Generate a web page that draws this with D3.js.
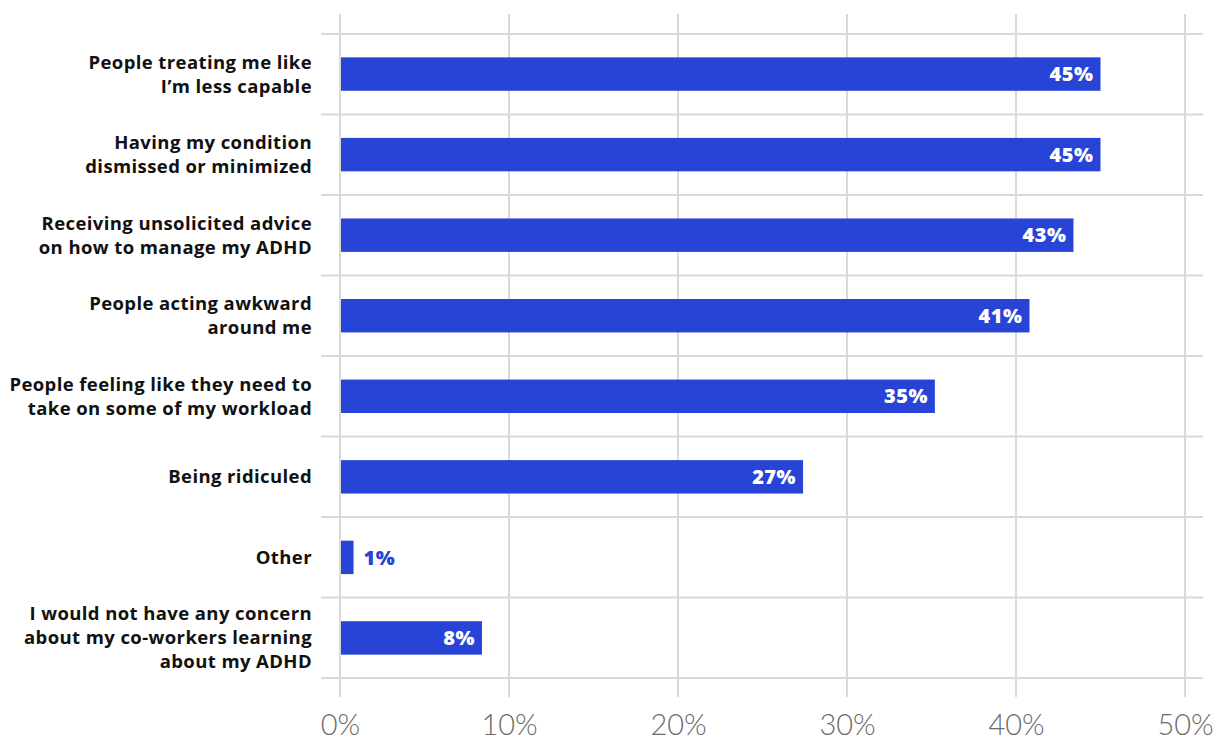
<!DOCTYPE html>
<html>
<head>
<meta charset="utf-8">
<script src="https://cdn.jsdelivr.net/npm/d3@7"></script>
<style>
  html, body { margin: 0; padding: 0; background: #ffffff; }
  svg { display: block; }
</style>
</head>
<body>
<svg id="chart" width="1217" height="740"></svg>
<script>
// Concerns about co-workers learning about ADHD (share of respondents, %)
const categories = [
  ["People treating me like", "I\u2019m less capable"],
  ["Having my condition", "dismissed or minimized"],
  ["Receiving unsolicited advice", "on how to manage my ADHD"],
  ["People acting awkward", "around me"],
  ["People feeling like they need to", "take on some of my workload"],
  ["Being ridiculed"],
  ["Other"],
  ["I would not have any concern", "about my co-workers learning", "about my ADHD"]
];
const values = [45.0, 45.0, 43.4, 40.8, 35.2, 27.4, 0.8, 8.4];
const tickValues = [0, 10, 20, 30, 40, 50];

const svg = d3.select("#chart");
const margin = { top: 34, left: 340 };
const plotRight = 1185;
const plotBottom = 678;

const x = d3.scaleLinear().domain([0, 50]).range([margin.left, plotRight]);
const y = d3.scaleBand()
  .domain(d3.range(categories.length))
  .range([margin.top, plotBottom])
  .paddingInner(0.585)
  .paddingOuter(0.29);

const gridColor = "#d9d9d9";
const barColor = "#2744d6";

// vertical gridlines
svg.append("g")
  .selectAll("line")
  .data(tickValues)
  .join("line")
  .attr("x1", d => x(d)).attr("x2", d => x(d))
  .attr("y1", 14).attr("y2", 697)
  .attr("stroke", gridColor)
  .attr("stroke-width", 2);

// horizontal row separators
const step = (plotBottom - margin.top) / categories.length;
svg.append("g")
  .selectAll("line")
  .data(d3.range(categories.length + 1))
  .join("line")
  .attr("x1", 321).attr("x2", 1203)
  .attr("y1", i => margin.top + i * step)
  .attr("y2", i => margin.top + i * step)
  .attr("stroke", gridColor)
  .attr("stroke-width", 2);

// bars
svg.append("g")
  .selectAll("rect")
  .data(values)
  .join("rect")
  .attr("x", x(0) + 1)
  .attr("y", (d, i) => y(i))
  .attr("width", d => x(d) - x(0) - 1)
  .attr("height", y.bandwidth())
  .attr("fill", barColor);

// value labels
const fmt = d => d3.format(".0f")(d) + "%";
const inside = d => (x(d) - x(0) > 60);
svg.append("g")
  .selectAll("text")
  .data(values)
  .join("text")
  .attr("x", d => inside(d) ? x(d) - 7 : x(d) + 10)
  .attr("y", (d, i) => y(i) + y.bandwidth() / 2)
  .attr("dy", "0.36em")
  .attr("text-anchor", d => inside(d) ? "end" : "start")
  .attr("fill", d => inside(d) ? "#ffffff" : barColor)
  .style("font-family", "'Open Sans', sans-serif")
  .style("font-weight", 800)
  .style("font-size", "20px")
  .style("letter-spacing", "0.5px")
  .text(fmt);

// category labels
const lineH = 24;
const labels = svg.append("g")
  .selectAll("text")
  .data(categories)
  .join("text")
  .attr("text-anchor", "end")
  .attr("fill", "#111111")
  .style("font-family", "'Open Sans', sans-serif")
  .style("font-weight", 700)
  .style("font-size", "18.5px")
  .style("letter-spacing", "0.4px");
labels.each(function(lines, i) {
  const cy = y(i) + y.bandwidth() / 2;
  const y0 = cy - (lines.length - 1) * lineH / 2;
  d3.select(this).selectAll("tspan")
    .data(lines)
    .join("tspan")
    .attr("x", 312)
    .attr("y", (d, j) => y0 + j * lineH)
    .attr("dy", "0.35em")
    .text(d => d);
});

// x axis tick labels
const xAxis = d3.axisBottom(x)
  .tickValues(tickValues)
  .tickSize(0)
  .tickPadding(0)
  .tickFormat(d => d + "%");
const axisG = svg.append("g")
  .attr("transform", "translate(0, 714)")
  .call(xAxis);
axisG.select(".domain").remove();
axisG.selectAll("text")
  .attr("fill", "#6b6b6b")
  .style("font-family", "Lato, 'Open Sans', sans-serif")
  .style("font-weight", 300)
  .style("font-size", "29px");
</script>
</body>
</html>
